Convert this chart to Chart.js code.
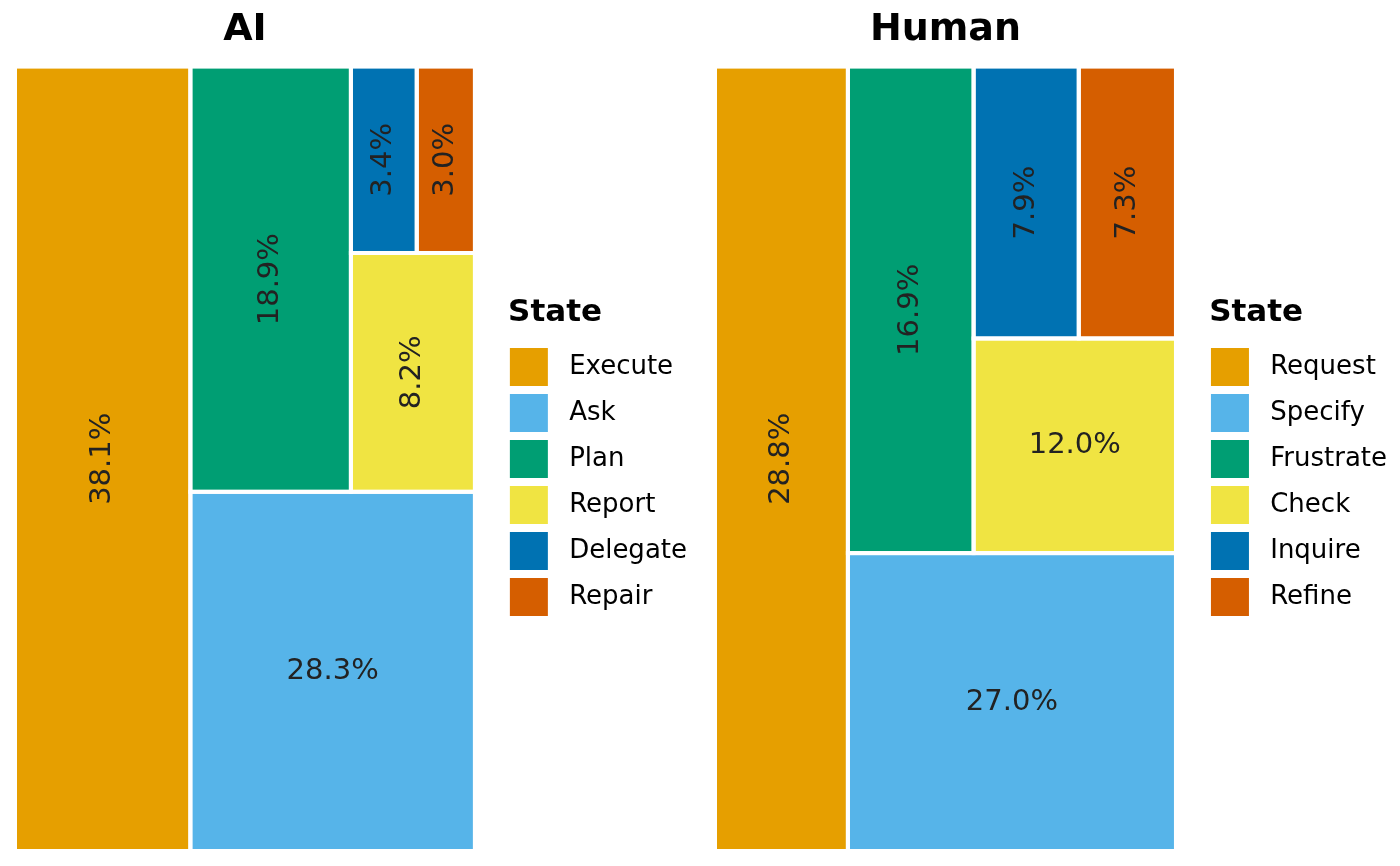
<!DOCTYPE html>
<html>
<head>
<meta charset="utf-8">
<title>AI vs Human states</title>
<script src="https://cdn.jsdelivr.net/npm/chart.js@4.4.1/dist/chart.umd.min.js"></script>
<style>
    html, body { margin: 0; padding: 0; background: #fff; }
    #wrap { display: flex; width: 1400px; height: 866px; }
    .panel { position: relative; width: 700px; height: 866px; }
</style>
</head>
<body>
<div id="wrap">
    <div class="panel"><canvas id="aiChart"></canvas></div>
    <div class="panel"><canvas id="humanChart"></canvas></div>
</div>
<script>
const aiStates = ['Execute', 'Ask', 'Plan', 'Report', 'Delegate', 'Repair'];
const aiShares = [38.1, 28.3, 18.9, 8.2, 3.4, 3.0];

const humanStates = ['Request', 'Specify', 'Frustrate', 'Check', 'Inquire', 'Refine'];
const humanShares = [28.8, 27.0, 16.9, 12.0, 7.9, 7.3];

const stateColors = ['#E69F00', '#56B4E9', '#009E73', '#F0E442', '#0072B2', '#D55E00'];

Chart.defaults.font.family = "'DejaVu Sans', sans-serif";
Chart.defaults.color = '#000';

// cut the unit square in turn: column from the left, strip from the bottom, ...
function sliceLayout(values) {
    let rest = values.reduce((a, b) => a + b, 0);
    let x0 = 0, x1 = 1, y0 = 0, y1 = 1;

    return values.map((v, i) => {
        let cell;
        if (i === values.length - 1) {
            cell = {x0, x1, y0, y1};
        } else if (i % 2 === 0) {
            const xm = x0 + (x1 - x0) * v / rest;
            cell = {x0, x1: xm, y0, y1};
            x0 = xm;
        } else {
            const ym = y0 + (y1 - y0) * v / rest;
            cell = {x0, x1, y0, y1: ym};
            y0 = ym;
        }
        rest -= v;
        cell.x = (cell.x0 + cell.x1) / 2;
        cell.y = (cell.y0 + cell.y1) / 2;
        cell.value = v;
        return cell;
    });
}

const treemapCells = {
    id: 'treemapCells',
    beforeDatasetsDraw(chart) {
        const {ctx, scales: {x, y}} = chart;
        const boxes = chart.data.datasets.map((ds) => {
            const cell = ds.data[0];
            const left = x.getPixelForValue(cell.x0);
            const right = x.getPixelForValue(cell.x1);
            const top = y.getPixelForValue(cell.y1);
            const bottom = y.getPixelForValue(cell.y0);
            return {left, top, w: right - left, h: bottom - top, color: ds.backgroundColor, value: cell.value};
        });

        ctx.save();
        boxes.forEach((b) => {
            ctx.fillStyle = b.color;
            ctx.fillRect(b.left, b.top, b.w, b.h);
        });
        ctx.lineWidth = 4;
        ctx.strokeStyle = '#fff';
        boxes.forEach((b) => ctx.strokeRect(b.left, b.top, b.w, b.h));

        ctx.fillStyle = '#222';
        ctx.font = "29px 'DejaVu Sans', sans-serif";
        ctx.textAlign = 'center';
        ctx.textBaseline = 'middle';
        boxes.forEach((b) => {
            ctx.save();
            ctx.translate(b.left + b.w / 2, b.top + b.h / 2);
            if (b.h > 1.3 * b.w) {
                ctx.rotate(-Math.PI / 2);
            }
            ctx.fillText(b.value.toFixed(1) + '%', 0, 0);
            ctx.restore();
        });
        ctx.restore();
    }
};

function getConfig(title, states, shares, padRight) {
    const cells = sliceLayout(shares);

    const datasets = states.map((state, i) => ({
        label: state,
        data: [cells[i]],
        backgroundColor: stateColors[i],
        borderWidth: 0,
        pointRadius: 0
    }));

    return {
        type: 'scatter',
        data: {datasets},
        options: {
            responsive: true,
            maintainAspectRatio: false,
            animation: false,
            events: [],
            layout: {
                padding: {left: 15, right: padRight, top: 0, bottom: 15}
            },
            scales: {
                x: {type: 'linear', min: 0, max: 1, display: false},
                y: {type: 'linear', min: 0, max: 1, display: false},
                gap: {
                    type: 'linear',
                    position: 'right',
                    grid: {display: false},
                    border: {display: false},
                    ticks: {display: false},
                    afterFit: (scale) => { scale.width = 27; }
                }
            },
            plugins: {
                title: {
                    display: true,
                    text: title,
                    fullSize: false,
                    color: '#000',
                    font: {size: 38, weight: 'bold', lineHeight: 1.2},
                    padding: {top: 7, bottom: 14}
                },
                legend: {
                    position: 'right',
                    align: 'center',
                    fullSize: false,
                    maxWidth: 260,
                    title: {
                        display: true,
                        text: '\u2009State',
                        position: 'start',
                        color: '#000',
                        font: {size: 31, weight: 'bold', lineHeight: 1.2},
                        padding: {top: 4, bottom: 5}
                    },
                    labels: {
                        boxWidth: 38,
                        boxHeight: 38,
                        padding: 8,
                        color: '#000',
                        font: {size: 26},
                        generateLabels: (chart) => {
                            const items = Chart.defaults.plugins.legend.labels.generateLabels(chart);
                            items.forEach((item) => { item.text = ' ' + item.text; item.lineWidth = 0; });
                            return items;
                        }
                    }
                },
                tooltip: {enabled: false}
            }
        },
        plugins: [treemapCells]
    };
}

new Chart(document.getElementById('aiChart'), getConfig('AI', aiStates, aiShares, 3));
new Chart(document.getElementById('humanChart'), getConfig('Human', humanStates, humanShares, 3));
</script>
</body>
</html>
